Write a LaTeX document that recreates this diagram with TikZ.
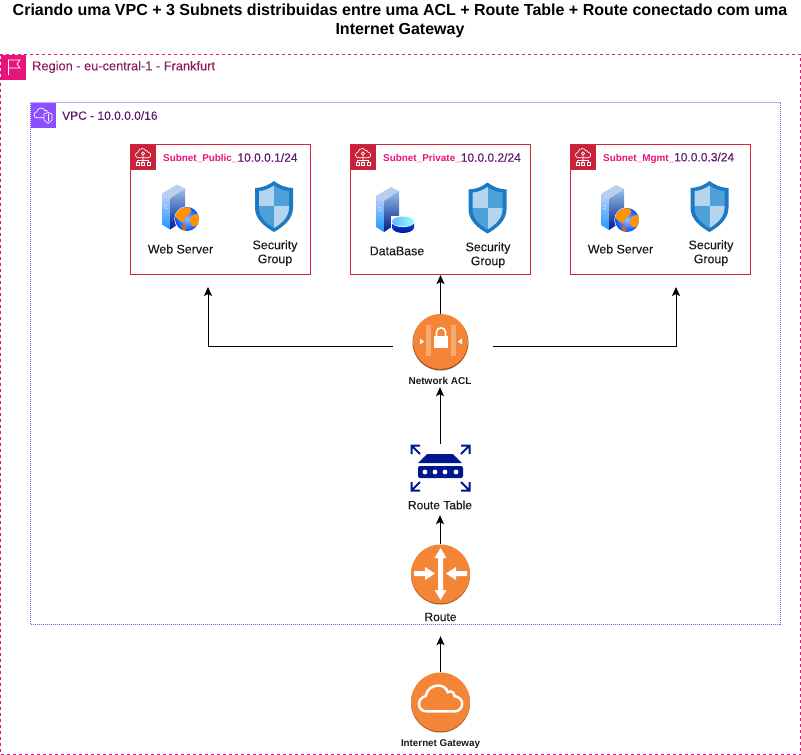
\documentclass[tikz,border=0pt]{standalone}
\usepackage{fontspec}
\setmainfont{Liberation Sans}
\newfontfamily\medf[FakeBold=0.12]{Liberation Sans}
\usetikzlibrary{arrows.meta,positioning}
\definecolor{regionc}{HTML}{E7157B}
\definecolor{regiont}{HTML}{8C1D5E}
\definecolor{vpcc}{HTML}{8C4FFF}
\definecolor{vpct}{HTML}{5F1A70}
\definecolor{subc}{HTML}{D6243C}
\definecolor{subicon}{HTML}{C7233A}
\definecolor{awso}{HTML}{F58536}
\definecolor{awsd}{HTML}{9D5025}
\definecolor{navy}{HTML}{00188F}
\definecolor{shb}{HTML}{1B7AC2}
\definecolor{shl}{HTML}{B5D5EE}
\definecolor{shm}{HTML}{4F9FD8}
\tikzset{
  x=1pt,y=-1pt,
  lbl/.style={inner sep=0pt,align=center,font=\medf\fontsize{12}{14}\selectfont,text=black!90},
  wlbl/.style={inner sep=0pt,align=center,font=\medf\fontsize{12.4}{14}\selectfont,text=black!90},
  smalllbl/.style={inner sep=0pt,font=\fontsize{10}{11}\selectfont\bfseries,text=black!90},
  subnetbox/.style={draw=subc,line width=1pt,fill=white,minimum width=180pt,minimum height=130pt,inner sep=0pt},
  subnettitle/.style={inner sep=0pt,anchor=west,text=vpct,font=\medf\fontsize{12}{14}\selectfont},
  slot/.style={inner sep=0pt,minimum width=#1,draw=none},
  orb/.style={circle,inner sep=0pt,minimum size=#1,fill=awso,draw=none},
  conn/.style={draw=black,line width=1pt,-{Stealth[length=9pt,width=8pt,inset=2pt]}},
  wline/.style={draw=white,line width=.7pt,fill=none},
}
\newcommand\pinkbit[1]{\textcolor{regionc}{\fontsize{9.9}{11}\selectfont\rmfamily\bfseries #1}}
% cloud outline, 45 wide, 27 high
\newcommand\mycloud{(9,27) .. controls (3,27) and (0,24) .. (0,19)
 .. controls (0,15) and (3,12) .. (7,11)
 .. controls (8,4) and (14,0) .. (20,0)
 .. controls (25,0) and (29,3) .. (30,7)
 .. controls (33,5) and (37,7) .. (37,11)
 .. controls (42,12) and (45,15) .. (45,19)
 .. controls (45,24) and (41,27) .. (37,27) -- cycle}
% tower, 23 wide, 45 high
\newcommand\mytower[1]{\begin{scope}[shift={(#1)}]
  \shade[top color=cyan!25!blue!25,bottom color=blue!45!cyan!90] (0,10) -- (8,15) -- (8,46) -- (0,41) -- cycle;
  \fill[cyan!60!blue!28] (0,10) -- (15,1) -- (23,5) -- (8,15) -- cycle;
  \shade[top color=blue!45!cyan!35!white!90!black,bottom color=navy] (8,15) -- (23,5) -- (23,36) -- (8,46) -- cycle;
  \draw[white,line width=.5pt] (2.5,21) -- (5,22.5) (2.5,24) -- (5,25.5);
\end{scope}}
\newcommand\myglobe[1]{\begin{scope}[shift={(#1)}]
  \fill[white] (0,0) circle (12.7);
  \shade[inner color=cyan!40!blue!40,outer color=blue!70!cyan] (0,0) circle (12);
  \begin{scope}\clip (0,0) circle (12);
   \fill[orange!85!yellow] (-12,-6) .. controls (-5,-14) and (6,-13) .. (4,-7) .. controls (1,-3) and (-3,-3) .. (-3,3) .. controls (-7,3) and (-13,-1) .. cycle;
   \fill[orange!85!yellow] (5,-3) .. controls (9,-7) and (13,-5) .. (13,1) .. controls (12,5) and (8,9) .. (5,7) .. controls (3,4) and (2,0) .. cycle;
   \fill[orange!85!black] (-5,6) .. controls (-2,5) and (0,8) .. (-1,12) .. controls (-4,12) and (-6,9) .. cycle;
  \end{scope}
\end{scope}}
\newcommand\mydb[1]{\begin{scope}[shift={(#1)}]
  \fill[white] (-.6,-5.6) rectangle (22.6,12);
  \shade[top color=blue!70!cyan,bottom color=navy] (0,0) -- (0,6) .. controls (0,9.5) and (6,11.5) .. (11,11.5) .. controls (16,11.5) and (22,9.5) .. (22,6) -- (22,0) -- cycle;
  \fill[white] (11,0) circle[x radius=11.6,y radius=5.6];
  \shade[left color=cyan!50!blue!60,right color=cyan!40] (11,0) circle[x radius=11,y radius=5];
\end{scope}}
% shield, 38 wide, 51 high
\newcommand\myshield[1]{\begin{scope}[shift={(#1)}]
  \fill[shb] (19,0) .. controls (24,4) and (31,7) .. (38,7) -- (38,27) .. controls (38,38) and (28,46) .. (19,51) .. controls (10,46) and (0,38) .. (0,27) -- (0,7) .. controls (7,7) and (14,4) .. (19,0) -- cycle;
  \begin{scope}
   \clip (19,4.5) .. controls (24,8) and (30,10) .. (34,10) -- (34,27) .. controls (34,36) and (26,43) .. (19,47) .. controls (12,43) and (4,36) .. (4,27) -- (4,10) .. controls (8,10) and (14,8) .. (19,4.5) -- cycle;
   \fill[shl] (0,0) rectangle (19,25);
   \fill[shm] (19,0) rectangle (38,25);
   \fill[shm] (0,25) rectangle (19,51);
   \fill[shl] (19,25) rectangle (38,51);
  \end{scope}
\end{scope}}
% subnet badge
\newcommand\mysubicon[1]{\begin{scope}[shift={(#1)}]
  \fill[subicon] (0,0) rectangle (25,25);
  \begin{scope}[shift={(5,4)},scale=.34]\draw[wline] \mycloud;\end{scope}
  \draw[wline] (12.5,9) circle (1.6) (12.5,10.6) -- (12.5,19) (7,17.5) -- (7,16) -- (18,16) -- (18,17.5);
  \draw[wline] (5.5,17.5) rectangle (8.5,20.5) (11,17.5) rectangle (14,20.5) (16.5,17.5) rectangle (19.5,20.5);
\end{scope}}
\begin{document}
\begin{tikzpicture}
\useasboundingbox (0,0) rectangle (801,755);
\fill[white] (0,0) rectangle (801,755);
% title
\node[inner sep=0pt,align=center,font=\fontsize{16}{19}\selectfont\bfseries] (title) at (400,21)
  {Criando uma VPC + 3 Subnets distribuidas entre uma ACL + Route Table + Route conectado com uma\\Internet Gateway};
% region
\node[draw=regionc,line width=1pt,dash pattern=on 3pt off 3pt,minimum width=800pt,minimum height=700pt,inner sep=0pt] (region) at (400.5,404.5) {};
\fill[regionc] (0.5,54.5) rectangle (25.5,79.5);
\draw[wline] (8.5,75) -- (8.5,60) -- (20,60) -- (17,64) -- (20,68) -- (8.5,68);
\node[inner sep=0pt,anchor=west,text=regiont,font=\medf\fontsize{12.8}{14}\selectfont] (regionlbl) at (32,67) {Region - eu-central-1 - Frankfurt};
% vpc
\node[draw=vpcc,line width=1pt,dash pattern=on 1pt off 1pt,minimum width=750pt,minimum height=522pt,inner sep=0pt] (vpc) at (405.5,363.5) {};
\draw[vpcc!50,line width=1pt] (30.5,102.5) -- (780.5,102.5);
\fill[vpcc] (30.5,102.5) rectangle (55.5,127.5);
\begin{scope}[shift={(34,108)},scale=.36]\draw[wline] \mycloud;\end{scope}
\draw[white,fill=vpcc,line width=.6pt] (44,114) -- (48,112.5) -- (52,114) -- (52,120) -- (48,123.5) -- (44,120) -- cycle;
\draw[wline] (48,114) -- (48,121);
\node[inner sep=0pt,anchor=west,text=vpct,font=\medf\fontsize{12}{14}\selectfont] (vpclbl) at (62,115.5) {VPC - 10.0.0.0/16};
% subnets
\node[subnetbox] (subPub) at (220.5,209.5) {};
\node[subnetbox] (subPriv) at (440.5,209.5) {};
\node[subnetbox] (subMgmt) at (660.5,209.5) {};
\mysubicon{130.5,144.5}
\mysubicon{350.5,144.5}
\mysubicon{570.5,144.5}
\node[subnettitle] (subPubT) at (163,158) {\pinkbit{Subnet\_Public\_}10.0.0.1/24};
\node[subnettitle] (subPrivT) at (383,158) {\pinkbit{Subnet\_Private\_}10.0.0.2/24};
\node[subnettitle] (subMgmtT) at (603,158) {\pinkbit{Subnet\_Mgmt\_}10.0.0.3/24};
% subnet contents
\mytower{162,183.5}\myglobe{187,219}
\myshield{255,181}
\node[wlbl] (web1) at (180.5,249) {Web Server};
\node[wlbl] (sg1) at (275,253) {Security\\Group};
\mytower{376,186}\mydb{392,221.5}
\myshield{468.5,182.5}
\node[wlbl] (dblbl) at (397,251) {DataBase};
\node[wlbl] (sg2) at (488,255) {Security\\Group};
\mytower{601,184}\myglobe{627,220}
\myshield{690.5,181}
\node[wlbl] (web2) at (620.5,249) {Web Server};
\node[wlbl] (sg3) at (711,253) {Security\\Group};
% network acl
\fill[awsd] (440.5,342.5) circle (28);
\node[orb=55pt] (acl) at (440.5,341.5) {};
\fill[white,opacity=.3] (426,325) rectangle (430.5,356);
\fill[white,opacity=.3] (451,325) rectangle (456,356);
\fill[white] (434,336) rectangle (448,348);
\draw[white,line width=1.6pt] (436.5,336) -- (436.5,332) .. controls (436.5,326.5) and (445.5,326.5) .. (445.5,332) -- (445.5,336);
\fill[white] (420,338.5) -- (424,341.5) -- (420,344.5) -- cycle;
\fill[white] (462,338.5) -- (458,341.5) -- (462,344.5) -- cycle;
\node[smalllbl,minimum height=12pt] (acllbl) at (440,381) {Network ACL};
% route table
\node[slot=61pt,minimum height=48pt] (rt) at (440.5,468) {};
\begin{scope}[shift={(410,444)}]
  \fill[navy] (8,19) -- (52,19) -- (43,10) -- (17,10) -- cycle;
  \fill[navy,rounded corners=2pt] (8,22) rectangle (53,34);
  \fill[white] (15,28) circle (2.4) (25,28) circle (2.4) (35,28) circle (2.4) (46,28) circle (2.4);
  \draw[navy,line width=2pt] (10,10) -- (1.5,1.5) (1.5,10) -- (1.5,1.5) -- (10,1.5);
  \draw[navy,line width=2pt] (51,10) -- (59.5,1.5) (51,1.5) -- (59.5,1.5) -- (59.5,10);
  \draw[navy,line width=2pt] (10,38) -- (1.5,46.5) (1.5,38) -- (1.5,46.5) -- (10,46.5);
  \draw[navy,line width=2pt] (51,38) -- (59.5,46.5) (51,46.5) -- (59.5,46.5) -- (59.5,38);
\end{scope}
\node[lbl,minimum height=20pt] (rtlbl) at (440,505) {Route Table};
% route
\fill[awsd] (440.5,575) circle (29.5);
\node[orb=59pt] (route) at (440.5,574) {};
\fill[white] (440.5,548) -- (446.5,558) -- (443,558) -- (443,590) -- (446.5,590) -- (440.5,600) -- (434.5,590) -- (438,590) -- (438,558) -- (434.5,558) -- cycle;
\fill[white] (414,571) -- (425,571) -- (425,567) -- (435,573.5) -- (425,580) -- (425,576) -- (414,576) -- cycle;
\fill[white] (467,571) -- (456,571) -- (456,567) -- (446,573.5) -- (456,580) -- (456,576) -- (467,576) -- cycle;
\node[lbl,minimum height=14pt] (routelbl) at (440.5,617) {Route};
% internet gateway
\fill[awsd] (440.5,703) circle (29.5);
\node[orb=59pt] (igw) at (440.5,702) {};
\begin{scope}[shift={(419,685.5)},scale=.96]\draw[white,line width=2.5pt,fill=none] \mycloud;\end{scope}
\node[smalllbl,font=\fontsize{9.8}{11}\selectfont\bfseries] (igwlbl) at (440.5,744.5) {Internet Gateway};
% connectors
\coordinate (pubIn) at (208,287);
\coordinate (mgmtIn) at (676,287);
\draw[conn,shorten <=20pt] ([yshift=-5pt]acl.west) -| (pubIn);
\draw[conn,shorten <=25pt] ([yshift=-5pt]acl.east) -| (mgmtIn);
\draw[conn] (acl.north) -- (acl.north |- subPriv.south);
\draw[conn] (rt.north -| acllbl.south) -- (acllbl.south);
\draw[conn] (route.north -| rtlbl.south) -- (rtlbl.south);
\draw[conn,shorten >=12pt] (igw.north) -- (routelbl.south);
\end{tikzpicture}
\end{document}
